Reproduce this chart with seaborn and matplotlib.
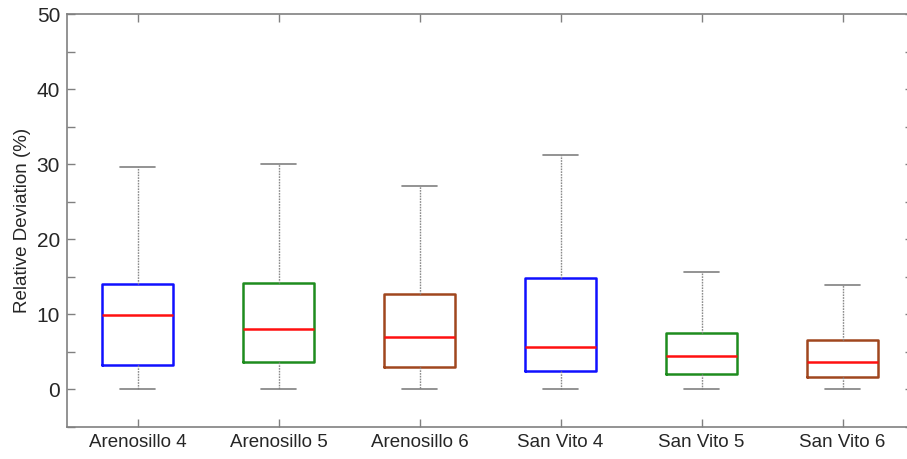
import numpy as np
import pandas as pd
import matplotlib
matplotlib.use("Agg")
import matplotlib.pyplot as plt
import seaborn as sns
from matplotlib.ticker import MultipleLocator

# Five-number summaries of relative deviation (%) for each site
sites = ["Arenosillo 4", "Arenosillo 5", "Arenosillo 6",
         "San Vito 4", "San Vito 5", "San Vito 6"]
minimum = [0.0, 0.0, 0.0, 0.0, 0.0, 0.0]
q1 = [3.2, 3.7, 3.0, 2.5, 2.0, 1.7]
median = [9.9, 8.0, 7.0, 5.6, 4.4, 3.6]
q3 = [14.0, 14.2, 12.7, 14.8, 7.5, 6.6]
maximum = [29.6, 30.0, 27.1, 31.2, 15.6, 13.9]

box_colors = ["#1010ff", "#1e8c1e", "#a0461e",
              "#1010ff", "#1e8c1e", "#a0461e"]

# Five points per site reproduce each summary exactly (linear percentiles)
rows = []
for s, a, b, c, d, e in zip(sites, minimum, q1, median, q3, maximum):
    for v in (a, b, c, d, e):
        rows.append({"site": s, "dev": v})
df = pd.DataFrame(rows)

sns.set_style("white")
plt.rcParams["font.family"] = ["Liberation Sans", "DejaVu Sans"]

fig = plt.figure(figsize=(9.07, 4.59), dpi=100)
W, H = 907, 459
left, right, top, bottom = 67, 913, 14, 427
ax = fig.add_axes([left / W, 1 - bottom / H, (right - left) / W, (bottom - top) / H])

sns.boxplot(
    data=df, x="site", y="dev", hue="site", palette=box_colors,
    order=sites, hue_order=sites, fill=False, width=0.5, whis=(0, 100),
    linewidth=1.8, legend=False, ax=ax,
    medianprops=dict(color="#ff1010", linewidth=1.8),
    whiskerprops=dict(color="#8a8a8a", linestyle=(0, (1.2, 0.8)), linewidth=1.0),
    capprops=dict(color="#808080", linewidth=1.2),
)

# Enforce per-element styling after seaborn applies its defaults
for i, patch in enumerate(ax.patches):
    patch.set_facecolor("white")
    patch.set_edgecolor(box_colors[i % len(box_colors)])
    patch.set_linewidth(1.8)

ax.set_xlim(-0.5, 5.5)
ax.set_ylim(-5, 50)
ax.yaxis.set_major_locator(MultipleLocator(10))
ax.yaxis.set_minor_locator(MultipleLocator(5))

ax.set_xlabel("")
ax.set_ylabel("Relative Deviation (%)", fontsize=13.5, labelpad=4)

for sp in ax.spines.values():
    sp.set_color("#808080")
    sp.set_linewidth(1.2)

ax.tick_params(axis="both", which="both", direction="in", top=True, right=True,
               left=True, bottom=True, color="#808080")
ax.tick_params(axis="y", which="major", length=6, width=1, labelsize=15, pad=5)
ax.tick_params(axis="y", which="minor", length=6, width=1)
ax.tick_params(axis="x", which="major", length=6, width=1, labelsize=13.5, pad=5)

fig.savefig("out.png", dpi=100, facecolor="white")
